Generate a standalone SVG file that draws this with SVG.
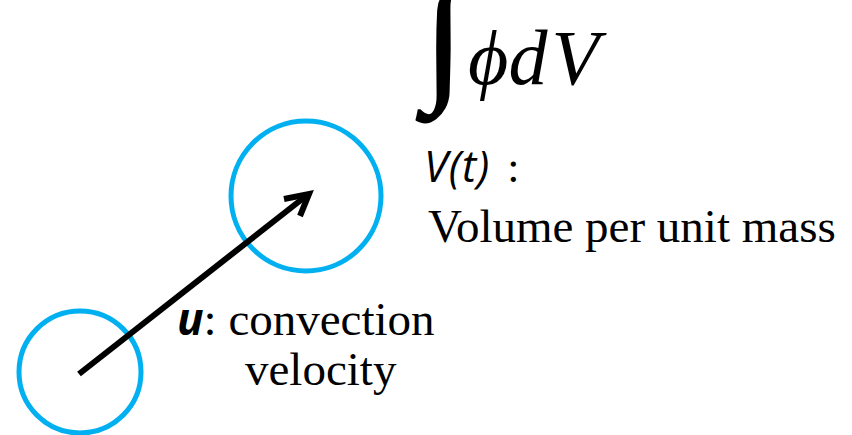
<svg xmlns="http://www.w3.org/2000/svg" width="852" height="435" viewBox="0 0 852 435">
<style>
.cv{fill:none;stroke:#00b0f0;stroke-width:5}
.serif{font-family:"Liberation Serif","Times New Roman",serif;fill:#000}
.sans{font-family:"Open Sans","Liberation Sans",sans-serif;fill:#000}
.arrow{fill:none;stroke:#000;stroke-width:6;stroke-linecap:butt}
</style>
<rect width="852" height="435" fill="#fff"/>
<g id="cv1"><circle class="cv" cx="80" cy="372" r="61"/></g>
<g id="cv2"><circle class="cv" cx="306" cy="196" r="75"/></g>
<g id="connectors">
<line class="arrow" x1="79" y1="374" x2="306" y2="196"/>
<polyline class="arrow" points="284,199 309,194 300,216" stroke-linecap="round" stroke-linejoin="miter"/>
</g>
<g id="integral">
<text class="serif" x="424" y="84" font-size="144" stroke="#000" stroke-width="2">∫</text>
<text class="serif" x="468" y="84" font-size="78" font-style="italic">ϕ<tspan>d</tspan><tspan dx="4">V</tspan></text>
</g>
<g id="vt-label">
<text x="424" y="182"><tspan class="sans" font-size="43" font-style="italic" letter-spacing="1">V(t)</tspan><tspan class="serif" font-size="44" dx="6"> :</tspan></text>
<text class="serif" x="428" y="242" font-size="47">Volume per unit mass</text>
</g>
<g id="u-label">
<text x="177" y="335"><tspan class="sans" font-size="44" font-style="italic" font-weight="bold">u</tspan><tspan class="serif" font-size="47">: convection</tspan></text>
<text class="serif" x="245" y="385" font-size="47">velocity</text>
</g>
</svg>
